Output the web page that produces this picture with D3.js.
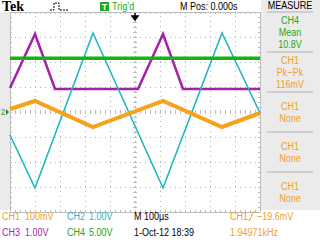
<!DOCTYPE html>
<html>
<head>
<meta charset="utf-8">
<script src="https://cdn.jsdelivr.net/npm/d3@7"></script>
<style>
  body { margin: 0; background: #fff; }
  svg { display: block; }
  text { font-family: "Liberation Sans", Arial, sans-serif; font-size: 11px; }
</style>
</head>
<body>
<svg id="scope" width="320" height="240"></svg>
<script>
// time in microseconds, values in each channel's own unit
const ch1Times = [-500, -400, -168, 112, 348, 500],
    ch1mV = [12, 44, -60, 44, -60, -4];
const ch2Times = [-500, -400, -168, 112, 348, 500],
    ch2V = [-0.92, -3.04, 3.16, -3.04, 3.16, -0.04];
const ch3Times = [-500, -400, -320, 12, 112, 192, 500],
    ch3V = [0.96, 3.12, 0.92, 0.92, 3.12, 0.92, 0.92];
const ch4Times = [-500, 500],
    ch4V = [10.75, 10.75];

const voltsPerDiv = {ch1: 100, ch2: 1, ch3: 1, ch4: 5};
const timeGrid = [-400, -300, -200, -100, 0, 100, 200, 300, 400];
const divGrid = [-3, -2, -1, 0, 1, 2, 3];

const measureLabels = [
    ['CH4', 'Mean', '10.8V'],
    ['CH1', 'Pk\u2212Pk', '116mV'],
    ['CH1', 'None'],
    ['CH1', 'None'],
    ['CH1', 'None']
];
const measureColors = ['#22aa22', '#f0a028', '#f0a028', '#f0a028', '#f0a028'];

const colors = {ch1: '#f5a31c', ch2: '#22b6be', ch3: '#a421a8', ch4: '#14b414'};
const textColors = {ch1: '#f0a028', ch2: '#2ab3c0', ch3: '#b020b0', ch4: '#22aa22'};

const plot = {left: 10, right: 260, top: 12, bottom: 212};
const squeeze = 0.82; // the scope font is a narrow one

const svg = d3.select('#scope');

function label(px, py, s, color, anchor) {
    return svg.append('text')
        .attr('transform', 'translate(' + px + ',' + py + ') scale(' + squeeze + ',1)')
        .attr('text-anchor', anchor || 'start')
        .attr('fill', color)
        .text(s);
}

// backgrounds
svg.append('rect').attr('x', 0).attr('y', plot.top).attr('width', plot.left).attr('height', 198).attr('fill', '#ebebeb');
svg.append('rect').attr('x', plot.right + 1).attr('y', 0).attr('width', 60).attr('height', 210).attr('fill', '#ebebeb');
svg.append('rect').attr('x', plot.left).attr('y', plot.top).attr('width', plot.right - plot.left).attr('height', plot.bottom - plot.top).attr('fill', '#fff');

const x = d3.scaleLinear().domain([-500, 500]).range([plot.left, plot.right]);
const y = d3.scaleLinear().domain([-4, 4]).range([plot.bottom, plot.top]);

// dotted grid
const grid = svg.append('g').attr('class', 'grid');
grid.append('g')
    .attr('transform', 'translate(0,' + plot.bottom + ')')
    .call(d3.axisBottom(x).tickValues(timeGrid).tickSize(-(plot.bottom - plot.top)).tickFormat(''))
    .call(g => g.select('.domain').remove());
grid.append('g')
    .attr('transform', 'translate(' + plot.left + ',0)')
    .call(d3.axisLeft(y).tickValues(divGrid).tickSize(-(plot.right - plot.left)).tickFormat(''))
    .call(g => g.select('.domain').remove());
grid.selectAll('line').attr('stroke', '#b4b4b4').attr('stroke-dasharray', '1,4');

// border with small ticks every fifth of a division
const minorT = d3.range(-500, 501, 20);
const minorD = d3.range(-4, 4.01, 0.2);
const border = svg.append('g').attr('class', 'border');
border.append('g').attr('transform', 'translate(0,' + plot.top + ')')
    .call(d3.axisTop(x).tickValues(minorT).tickSize(-2).tickSizeOuter(0).tickFormat(''));
border.append('g').attr('transform', 'translate(0,' + plot.bottom + ')')
    .call(d3.axisBottom(x).tickValues(minorT).tickSize(-2).tickSizeOuter(0).tickFormat(''));
border.append('g').attr('transform', 'translate(' + plot.left + ',0)')
    .call(d3.axisLeft(y).tickValues(minorD).tickSize(-2).tickSizeOuter(0).tickFormat(''));
border.append('g').attr('transform', 'translate(' + plot.right + ',0)')
    .call(d3.axisRight(y).tickValues(minorD).tickSize(-2).tickSizeOuter(0).tickFormat(''));
// centre cross ticks
border.append('g').attr('transform', 'translate(0,' + (y(0) + 2) + ')')
    .call(d3.axisBottom(x).tickValues(minorT).tickSize(-4).tickFormat(''))
    .call(g => g.select('.domain').remove());
border.append('g').attr('transform', 'translate(' + (x(0) - 2) + ',0)')
    .call(d3.axisLeft(y).tickValues(minorD).tickSize(-4).tickFormat(''))
    .call(g => g.select('.domain').remove());
border.selectAll('line, path').attr('stroke', '#bdbdbd').attr('stroke-width', 1);

// traces
const line = d3.line().x(d => x(d[0])).y(d => y(d[1]));
function trace(times, values, vdiv, color, width) {
    svg.append('path')
        .datum(times.map((t, i) => [t, values[i] / vdiv]))
        .attr('d', line)
        .attr('fill', 'none')
        .attr('stroke', color)
        .attr('stroke-width', width)
        .attr('stroke-linejoin', 'miter');
}
trace(ch3Times, ch3V, voltsPerDiv.ch3, colors.ch3, 2.5);
trace(ch2Times, ch2V, voltsPerDiv.ch2, colors.ch2, 1.6);
trace(ch4Times, ch4V, voltsPerDiv.ch4, colors.ch4, 3.5);
trace(ch1Times, ch1mV, voltsPerDiv.ch1, colors.ch1, 4);

// ground marker and trigger position arrow
label(1, y(0) + 3, '2', '#2a8a2a').style('font-size', '9px');
svg.append('path').attr('d', 'M6,' + (y(0) - 3) + 'L9,' + y(0) + 'L6,' + (y(0) + 3) + 'Z').attr('fill', '#2a8a2a');
const tx = x(0);
svg.append('path').attr('d', `M${tx},13V17M${tx - 3},16L${tx},20L${tx + 3},16Z`)
    .attr('stroke', '#000').attr('stroke-width', 1.5).attr('fill', '#000');

// header
svg.append('text').attr('x', 2).attr('y', 11).attr('fill', '#000')
    .style('font-family', '"Liberation Serif", serif').style('font-weight', 'bold').style('font-size', '14px').text('Tek');
svg.append('path').attr('d', 'M50,10H54V3H59V10H68').attr('fill', 'none').attr('stroke', '#000').attr('stroke-width', 1).attr('stroke-dasharray', '2,1');
svg.append('rect').attr('x', 100).attr('y', 2).attr('width', 9).attr('height', 9).attr('fill', '#22a822');
svg.append('text').attr('x', 104.5).attr('y', 10).attr('fill', '#fff').attr('text-anchor', 'middle')
    .style('font-size', '9px').style('font-weight', 'bold').text('T');
label(112, 10, 'Trig\u2019d', '#22aa22');
label(180, 10, 'M Pos: 0.000s', '#000');
label(290, 9, 'MEASURE', '#000', 'middle');

// measure panel
const sepY = [12, 52, 92, 132, 172];
svg.selectAll('line.sep').data(sepY).enter().append('line')
    .attr('x1', 267).attr('x2', 313).attr('y1', d => d).attr('y2', d => d)
    .attr('stroke', '#b0b0b0');
measureLabels.forEach((lines, i) => {
    const mid = sepY[i] + 20;
    const start = mid - (lines.length - 1) * 6;
    lines.forEach((s, j) => label(290, start + j * 12 + 4, s, measureColors[i], 'middle'));
});

// footer
const footer = [
    [2, 220, 'CH1', textColors.ch1], [25, 220, '100mV', textColors.ch1],
    [67, 220, 'CH2', textColors.ch2], [89, 220, '1.00V', textColors.ch2],
    [134, 220, 'M 100\u00b5s', '#000'],
    [230, 220, 'CH1', textColors.ch1], [257, 220, '\u221219.6mV', textColors.ch1],
    [2, 236, 'CH3', textColors.ch3], [25, 236, '1.00V', textColors.ch3],
    [67, 236, 'CH4', textColors.ch4], [89, 236, '5.00V', textColors.ch4],
    [134, 236, '1-Oct-12 18:39', '#000'],
    [230, 236, '1.94971kHz', textColors.ch1]
];
footer.forEach(d => label(d[0], d[1], d[2], d[3]));
// rising slope symbol
svg.append('path').attr('d', 'M248,220H250L253,212H255').attr('fill', 'none').attr('stroke', textColors.ch1).attr('stroke-width', 1);
</script>
</body>
</html>
